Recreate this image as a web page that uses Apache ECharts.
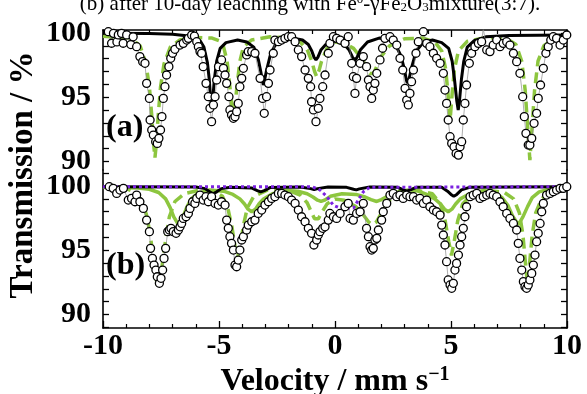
<!DOCTYPE html>
<html><head><meta charset="utf-8">
<script src="https://cdn.jsdelivr.net/npm/echarts@6/dist/echarts.min.js"></script>
<style>html,body{margin:0;padding:0;background:#fff}#c{width:587px;height:394px}</style>
</head><body><div id="c"></div>
<script>
// ---------- data ----------
const xTickValues = [-10, -5, 0, 5, 10];
const yLabelValues = [90, 95, 100];
const yTicksA = [90, 91, 92, 93, 94, 95, 96, 97, 98, 99, 100];
const yTicksB = [89, 90, 91, 92, 93, 94, 95, 96, 97, 98, 99, 100, 101];

// panel (a) measured points
const dataA = [[-9.77,100.1],[-9.63,99.2],[-9.55,99.97],[-9.4,99.3],[-9.34,99.85],[-9.2,99.97],[-9.13,99.2],[-8.98,99.85],[-8.8,99.1],[-8.7,99.7],
[-8.55,98.93],[-8.41,98.16],[-8.29,97.77],[-8.19,97.64],[-8.12,96.08],[-8.00,94.91],[-7.97,93.23],[-7.90,92.45],[-7.83,92.06],[-7.73,91.54],[-7.66,91.41],[-7.59,91.80],[-7.52,92.45],[-7.46,93.49],[-7.40,94.91],[-7.33,95.82],[-7.26,96.73],[-7.16,97.38],[-7.08,98.03],[-7.00,98.42],[-6.90,98.73],[-6.68,99.06],[-6.54,99.19],[-6.39,99.45],[-6.32,99.58],[-6.18,99.84],[-6.06,99.76],[-5.96,99.32],[-5.89,98.93],[-5.82,98.55],[-5.75,98.42],[-5.68,97.38],[-5.56,96.08],[-5.46,95.04],[-5.39,94.14],[-5.32,93.10],[-5.24,94.40],[-5.17,95.04],[-5.10,96.34],[-5.02,97.38],[-4.89,97.90],[-4.81,97.25],[-4.74,96.73],[-4.67,96.08],[-4.57,95.04],[-4.53,94.01],[-4.46,93.62],[-4.38,93.36],[-4.31,93.49],[-4.24,93.88],[-4.17,94.52],[-4.10,95.82],[-4.02,96.47],[-3.95,97.25],[-3.81,98.29],[-3.74,98.55],[-3.59,98.55],[-3.45,98.42],[-3.23,96.47],[-3.12,94.91],[-3.05,93.75],[-2.95,95.04],[-2.87,96.08],[-2.80,97.12],[-2.66,98.42],[-2.59,99.45],[-2.44,99.32],[-2.30,99.45],[-2.16,99.58],[-2.01,99.71],[-1.87,99.71],[-1.72,99.32],[-1.58,98.68],[-1.44,98.16],[-1.29,97.12],[-1.15,96.47],[-1.05,95.82],[-1.01,94.65],[-0.93,94.01],[-0.82,93.10],[-0.72,94.14],[-0.65,94.91],[-0.53,95.82],[-0.43,96.73],[-0.29,98.42],[-0.22,99.19],[-0.07,99.71],[0.07,99.58],[0.22,99.45],[0.43,99.19],[0.57,99.71],
[0.72,97.64],[0.79,96.60],[0.86,95.30],[0.93,96.47],[1.08,97.64],[1.22,98.16],[1.36,97.38],[1.44,96.34],[1.51,95.82],[1.58,94.91],[1.65,95.56],[1.72,96.08],[1.80,96.86],[1.94,97.90],[2.05,98.81],[2.15,99.58],[2.37,99.71],[2.51,99.45],[2.66,99.06],[2.80,98.03],[2.92,97.12],[3.02,95.69],[3.09,94.78],[3.16,94.40],[3.23,95.30],[3.30,96.21],[3.38,97.12],[3.49,98.42],[3.59,99.32],[3.81,100.1],[3.95,99.19],[4.09,98.93],[4.24,98.42],[4.38,98.03],[4.53,97.64],[4.67,96.86],[4.74,95.56],[4.81,94.52],[4.88,93.23],[4.96,91.93],[5.03,91.41],[5.13,91.15],[5.22,90.63],[5.32,90.50],[5.39,91.15],[5.46,91.54],[5.53,93.23],[5.60,94.52],[5.67,95.95],[5.79,97.64],[5.89,98.42],[6.03,98.93],[6.18,99.19],[6.32,99.32],[6.39,100.36],[6.54,98.68],[6.68,98.55],[6.82,99.06],[6.97,99.45],[7.11,98.93],[7.25,99.19],[7.40,99.32],[7.54,99.06],[7.69,98.42],[7.83,97.77],[7.97,96.86],[8.09,95.04],[8.16,93.49],[8.23,92.19],[8.33,91.28],[8.40,91.28],[8.48,91.80],[8.58,92.97],[8.69,93.75],[8.76,94.91],[8.86,95.95],[8.98,97.25],[9.09,98.42],[9.19,98.93],[9.30,99.45],[9.41,99.71],[9.55,99.58],[9.70,99.06],[9.84,99.45],[9.99,99.84]];

// panel (a) black solid sub-spectrum
const blackA = [[-10,99.97],[-8,99.95],[-7,99.9],[-6.5,99.8],[-6,99.6],[-5.8,99.35],[-5.65,98.9],[-5.5,97.7],[-5.42,96.4],[-5.35,94.6],[-5.32,94.0],[-5.28,94.6],[-5.2,96.4],[-5.1,97.8],[-4.95,98.8],[-4.7,99.25],[-4.2,99.45],[-3.8,99.3],[-3.5,98.9],[-3.3,97.9],[-3.2,97.0],[-3.12,96.2],[-3.09,95.95],[-3.05,96.2],[-2.95,97.1],[-2.8,98.2],[-2.6,99.0],[-2.2,99.5],[-1.8,99.6],[-1.4,99.45],[-1.15,99.1],[-1.0,98.6],[-0.9,98.1],[-0.82,97.9],[-0.74,98.1],[-0.6,98.7],[-0.4,99.1],[0,99.4],[0.4,99.1],[0.6,98.7],[0.76,98.1],[0.86,97.9],[0.95,98.1],[1.1,98.7],[1.4,99.3],[1.9,99.6],[2.3,99.5],[2.6,99.1],[2.85,98.2],[3.0,97.1],[3.08,96.3],[3.12,96.1],[3.18,96.3],[3.3,97.3],[3.5,98.6],[3.8,99.25],[4.2,99.45],[4.6,99.25],[4.9,98.8],[5.05,97.8],[5.15,96.4],[5.25,94.7],[5.31,94.0],[5.36,94.6],[5.45,96.4],[5.55,97.8],[5.7,98.9],[6.0,99.4],[6.5,99.7],[7.5,99.8],[10,99.85]];

// panel (a) green dashed sub-spectrum
const greenA = [[-10,99.75],[-8.8,99.6],[-8.4,99.0],[-8.15,97.6],[-8.0,95.8],[-7.9,93.6],[-7.82,91.4],[-7.76,90.3],[-7.7,91.4],[-7.62,93.6],[-7.52,95.8],[-7.37,97.6],[-7.1,98.9],[-6.7,99.45],[-6.0,99.65],[-5.3,99.6],[-5.0,99.4],[-4.8,98.9],[-4.65,97.8],[-4.53,95.8],[-4.45,94.3],[-4.38,93.2],[-4.31,94.3],[-4.23,95.8],[-4.1,97.8],[-3.95,98.9],[-3.6,99.45],[-2.8,99.7],[-2.0,99.6],[-1.5,99.3],[-1.2,98.7],[-1.0,97.8],[-0.88,97.0],[-0.79,96.6],[-0.7,97.0],[-0.58,97.8],[-0.35,98.8],[0,99.3],[0.4,99.2],[0.8,98.8],[1.15,98.0],[1.38,97.3],[1.5,96.85],[1.58,96.7],[1.66,96.85],[1.8,97.4],[2.0,98.2],[2.35,99.0],[3.0,99.55],[3.8,99.6],[4.3,99.3],[4.6,98.6],[4.77,97.2],[4.87,95.3],[4.96,93.2],[5.05,95.3],[5.15,97.2],[5.32,98.6],[5.7,99.35],[6.5,99.65],[7.4,99.55],[7.8,99.1],[8.05,97.8],[8.2,95.5],[8.3,92.8],[8.4,90.1],[8.5,92.8],[8.6,95.5],[8.75,97.8],[9.0,99.0],[9.4,99.5],[10,99.7]];

// panel (b) measured points
const dataB = [[-9.73,99.95],[-9.56,99.82],[-9.41,99.43],[-9.27,99.69],[-9.12,99.82],[-8.91,98.91],[-8.77,99.04],[-8.62,98.78],[-8.55,99.30],[-8.41,98.78],[-8.26,98.26],[-8.12,97.35],[-8.00,96.45],[-7.95,95.15],[-7.87,94.37],[-7.80,93.85],[-7.72,93.46],[-7.66,92.94],[-7.57,92.43],[-7.50,92.82],[-7.43,93.46],[-7.37,94.37],[-7.30,95.15],[-7.21,96.45],[-7.14,96.58],[-7.07,96.71],[-6.97,96.45],[-6.85,96.32],[-6.75,96.58],[-6.68,96.83],[-6.61,97.09],[-6.54,97.48],[-6.42,97.61],[-6.32,97.87],[-6.25,98.26],[-6.14,98.78],[-6.04,98.65],[-5.96,99.04],[-5.82,99.30],[-5.68,98.91],[-5.56,99.17],[-5.46,98.78],[-5.32,99.17],[-5.17,98.65],[-5.03,98.52],[-4.89,98.78],[-4.74,98.52],[-4.67,97.35],[-4.60,96.71],[-4.53,96.06],[-4.46,95.54],[-4.38,95.02],[-4.31,93.85],[-4.24,93.72],[-4.17,94.24],[-4.10,95.02],[-4.02,95.80],[-3.95,96.06],[-3.81,96.58],[-3.74,96.96],[-3.59,97.22],[-3.45,97.35],[-3.31,97.87],[-3.16,98.13],[-3.02,98.52],[-2.87,98.78],[-2.73,99.04],[-2.59,99.17],[-2.44,99.43],[-2.30,99.43],[-2.16,99.30],[-2.01,99.17],[-1.87,98.91],[-1.72,98.65],[-1.58,98.13],[-1.44,97.61],[-1.29,97.22],[-1.15,96.71],[-1.01,96.32],[-0.91,95.41],[-0.79,95.80],[-0.72,96.19],[-0.65,96.45],[-0.53,96.71],[-0.43,96.83],[-0.29,97.35],[-0.22,97.87],[-0.07,97.61],[0.07,97.48],[0.22,97.87],[0.43,98.39],[0.57,98.65],[0.65,97.48],[0.79,97.35],[0.93,97.87],[1.08,98.00],[1.22,98.65],[1.36,96.71],[1.44,96.06],[1.51,95.28],[1.58,95.02],[1.65,95.15],[1.72,95.80],[1.80,95.93],[1.87,96.58],[2.01,97.35],[2.08,98.00],[2.23,98.65],[2.37,99.30],[2.51,99.43],[2.66,99.17],[2.80,99.30],[2.94,99.04],[3.09,99.30],[3.23,99.17],[3.38,99.17],[3.52,98.91],[3.66,99.04],[3.81,98.65],[3.95,98.91],[4.09,98.39],[4.24,98.13],[4.38,98.00],[4.53,97.74],[4.60,96.96],[4.67,96.19],[4.74,95.41],[4.81,94.11],[4.88,92.69],[4.96,92.30],[5.03,92.04],[5.10,92.43],[5.17,93.46],[5.24,93.98],[5.32,94.63],[5.39,95.41],[5.46,96.06],[5.53,96.71],[5.60,97.61],[5.67,98.39],[5.82,99.17],[5.96,99.30],[6.11,99.43],[6.25,99.04],[6.39,99.17],[6.54,99.30],[6.68,99.43],[6.82,99.30],[6.97,99.17],[7.11,98.78],[7.25,98.39],[7.40,97.87],[7.54,97.48],[7.69,97.09],[7.83,96.58],[7.90,95.54],[7.97,94.37],[8.05,93.46],[8.12,92.56],[8.19,92.17],[8.26,92.04],[8.33,92.30],[8.40,92.69],[8.48,93.20],[8.55,93.85],[8.62,94.63],[8.69,95.67],[8.76,96.32],[8.84,97.09],[8.91,98.00],[8.98,98.65],[9.12,99.30],[9.27,99.43],[9.41,99.56],[9.55,99.69],[9.70,99.82],[9.84,99.82],[9.99,99.95]];

// panel (b) green dashed sub-spectrum
const greenDashB = [[-10,99.9],[-9,99.8],[-8.6,99.5],[-8.3,98.8],[-8.1,97.6],[-7.95,96.0],[-7.82,94.2],[-7.7,92.7],[-7.62,92.0],[-7.54,92.7],[-7.42,94.2],[-7.29,96.0],[-7.14,97.6],[-6.9,98.8],[-6.5,99.4],[-5.8,99.7],[-5.2,99.6],[-4.85,99.2],[-4.62,98.3],[-4.45,96.9],[-4.32,95.4],[-4.2,94.4],[-4.08,95.4],[-3.95,96.9],[-3.78,98.3],[-3.5,99.2],[-2.9,99.7],[-2.0,99.65],[-1.5,99.3],[-1.2,98.7],[-1.0,97.9],[-0.88,97.45],[-0.8,97.3],[-0.72,97.45],[-0.58,97.9],[-0.35,98.6],[0,99.0],[0.4,98.9],[0.9,98.4],[1.2,97.8],[1.45,97.2],[1.62,97.0],[1.78,97.2],[2.0,97.9],[2.3,98.8],[2.8,99.5],[3.6,99.65],[4.2,99.4],[4.55,98.6],[4.75,97.3],[4.9,95.7],[5.02,94.6],[5.14,95.7],[5.29,97.3],[5.5,98.6],[5.9,99.35],[6.6,99.65],[7.3,99.5],[7.7,99.0],[7.95,97.9],[8.1,96.2],[8.2,94.2],[8.3,92.3],[8.4,94.2],[8.5,96.2],[8.65,97.9],[8.9,99.0],[9.3,99.6],[10,99.85]];

// panel (b) green solid sub-spectrum
const greenSolidB = [[-10,99.9],[-8.5,99.85],[-8.0,99.75],[-7.6,99.5],[-7.3,99.0],[-7.1,98.3],[-6.95,97.6],[-6.75,97.0],[-6.55,97.6],[-6.4,98.3],[-6.2,99.0],[-5.9,99.45],[-5.4,99.7],[-4.8,99.6],[-4.4,99.35],[-4.1,99.0],[-3.9,98.6],[-3.75,98.2],[-3.59,98.0],[-3.43,98.2],[-3.28,98.6],[-3.08,99.0],[-2.7,99.4],[-2.1,99.65],[-1.6,99.6],[-1.2,99.4],[-0.95,99.15],[-0.75,98.9],[-0.6,98.8],[-0.45,98.9],[-0.2,99.2],[0.3,99.4],[0.9,99.35],[1.3,99.15],[1.55,98.95],[1.8,98.8],[2.0,98.95],[2.3,99.25],[2.8,99.6],[3.4,99.75],[3.9,99.4],[4.3,99.0],[4.55,98.6],[4.72,98.2],[4.88,98.0],[5.04,98.2],[5.2,98.6],[5.4,99.0],[5.8,99.4],[6.4,99.65],[6.9,99.5],[7.2,99.1],[7.45,98.5],[7.65,97.7],[7.9,97.0],[8.1,97.6],[8.3,98.4],[8.5,99.1],[8.8,99.55],[9.3,99.8],[10,99.9]];

// panel (b) black solid sub-spectrum
const blackB = [[-10,99.95],[-6,99.93],[-5.6,99.8],[-5.4,99.55],[-5.25,99.4],[-5.1,99.55],[-4.9,99.8],[-4.5,99.9],[-3.6,99.85],[-3.35,99.65],[-3.2,99.55],[-3.05,99.65],[-2.8,99.88],[-1.5,99.92],[-1.05,99.8],[-0.9,99.72],[-0.75,99.8],[-0.3,99.92],[0.5,99.9],[0.8,99.75],[0.92,99.7],[1.05,99.78],[1.5,99.92],[2.7,99.9],[2.95,99.7],[3.1,99.6],[3.25,99.7],[3.5,99.9],[4.6,99.9],[4.85,99.6],[5.0,99.35],[5.12,99.2],[5.25,99.35],[5.45,99.7],[5.8,99.9],[10,99.95]];

// panel (b) purple dotted doublet
const purpleB = [[-10,99.95],[-1.0,99.95],[-0.65,99.7],[-0.36,99.2],[-0.07,98.5],[0.2,98.3],[0.5,98.3],[0.8,98.3],[1.0,98.9],[1.22,99.55],[1.5,99.9],[10,99.95]];

// ---------- chart ----------
const FONT = "'Liberation Serif','Times New Roman',serif";
const chart = echarts.init(document.getElementById('c'), null, {renderer: 'canvas'});
const axisLineStyle = {show: true, onZero: false, lineStyle: {color: '#000', width: 1.6}};
const labelStyle = {color: '#000', fontFamily: FONT, fontWeight: 'bold', fontSize: 30};

function xAxisCfg(grid, pos, showLabel) {
  return {
    type: 'value', gridIndex: grid, position: pos, min: -10, max: 10, interval: 5,
    axisLine: axisLineStyle,
    axisTick: {show: true, inside: true, length: 7, lineStyle: {color: '#000', width: 1.3}},
    minorTick: {show: true, splitNumber: 5, length: 4, lineStyle: {color: '#000', width: 1.2}},
    splitLine: {show: false}, minorSplitLine: {show: false},
    axisLabel: Object.assign({show: showLabel, margin: 3, showMinLabel: true, showMaxLabel: true}, labelStyle)
  };
}
function yAxisCfg(grid, pos, min, max, ticks, showLabel) {
  return {
    type: 'value', gridIndex: grid, position: pos, min: min, max: max,
    axisLine: axisLineStyle,
    axisTick: {show: true, inside: true, length: 6, customValues: ticks, lineStyle: {color: '#000', width: 1.3}},
    splitLine: {show: false},
    axisLabel: Object.assign({show: showLabel, margin: 12, customValues: yLabelValues}, labelStyle)
  };
}

function lineSeries(xi, yi, data, color, width, type, z) {
  return {type: 'line', xAxisIndex: xi, yAxisIndex: yi, data: data, showSymbol: false, symbol: 'none',
    lineStyle: {color: color, width: width, type: type, cap: 'butt'}, z: z, silent: true};
}
function dataSeries(xi, yi, data) {
  return {type: 'line', xAxisIndex: xi, yAxisIndex: yi, data: data, symbol: 'circle', symbolSize: 8, showAllSymbol: true,
    itemStyle: {color: '#fff', borderColor: '#000', borderWidth: 1.3},
    lineStyle: {color: '#8a8a8a', width: 0.7}, z: 10, silent: true};
}

const GREEN = '#8dc63f';
const option = {
  animation: false,
  backgroundColor: '#fff',
  grid: [
    {left: 103, right: 20, top: 30, height: 140},
    {left: 103, right: 20, top: 170, height: 158}
  ],
  xAxis: [xAxisCfg(0, 'top', false), xAxisCfg(1, 'bottom', true)],
  yAxis: [
    yAxisCfg(0, 'left', 89.34, 100.23, yTicksA, true),
    yAxisCfg(0, 'right', 89.34, 100.23, yTicksA, false),
    yAxisCfg(1, 'left', 88.95, 101.25, yTicksB, true),
    yAxisCfg(1, 'right', 88.95, 101.25, yTicksB, false)
  ],
  series: [
    lineSeries(0, 0, greenA, GREEN, 3.5, [11, 6], 3),
    lineSeries(0, 0, blackA, '#000', 3, 'solid', 4),
    dataSeries(0, 0, dataA),
    lineSeries(1, 2, greenSolidB, GREEN, 3.5, 'solid', 3),
    lineSeries(1, 2, greenDashB, GREEN, 3.5, [11, 6], 4),
    lineSeries(1, 2, blackB, '#000', 3, 'solid', 5),
    lineSeries(1, 2, purpleB, '#7b22e0', 3, [3, 3], 6),
    dataSeries(1, 2, dataB)
  ],
  graphic: [
    {type: 'text', x: 23, y: 175, rotation: Math.PI / 2, z: 100,
      style: {text: 'Transmission / %', fontFamily: FONT, fontWeight: 'bold', fontSize: 33, fill: '#000', textAlign: 'center', textVerticalAlign: 'middle'}},
    {type: 'text', x: 335, y: 382, z: 100,
      style: {text: 'Velocity / mm s{sup|−1}', fontFamily: FONT, fontWeight: 'bold', fontSize: 32, fill: '#000', textAlign: 'center', textVerticalAlign: 'middle',
        rich: {sup: {fontFamily: FONT, fontWeight: 'bold', fontSize: 20, verticalAlign: 'top', padding: [0, 0, 14, 0]}}}},
    {type: 'text', x: 106, y: 128, z: 100,
      style: {text: '(a)', fontFamily: FONT, fontWeight: 'bold', fontSize: 32, fill: '#000', textAlign: 'left', textVerticalAlign: 'middle'}},
    {type: 'text', x: 106, y: 266, z: 100,
      style: {text: '(b)', fontFamily: FONT, fontWeight: 'bold', fontSize: 32, fill: '#000', textAlign: 'left', textVerticalAlign: 'middle'}},
    {type: 'text', x: 310, y: 4, z: 100,
      style: {text: '(b) after 10-day leaching with Fe{sup|0}-γFe{sub|2}O{sub|3}mixture(3:7).', fontFamily: FONT, fontSize: 21, fill: '#000', textAlign: 'center', textVerticalAlign: 'middle',
        rich: {sup: {fontFamily: FONT, fontSize: 13, verticalAlign: 'top', padding: [0, 0, 8, 0]}, sub: {fontFamily: FONT, fontSize: 13, verticalAlign: 'bottom', padding: [8, 0, 0, 0]}}}}
  ]
};
chart.setOption(option);
</script>
</body></html>
